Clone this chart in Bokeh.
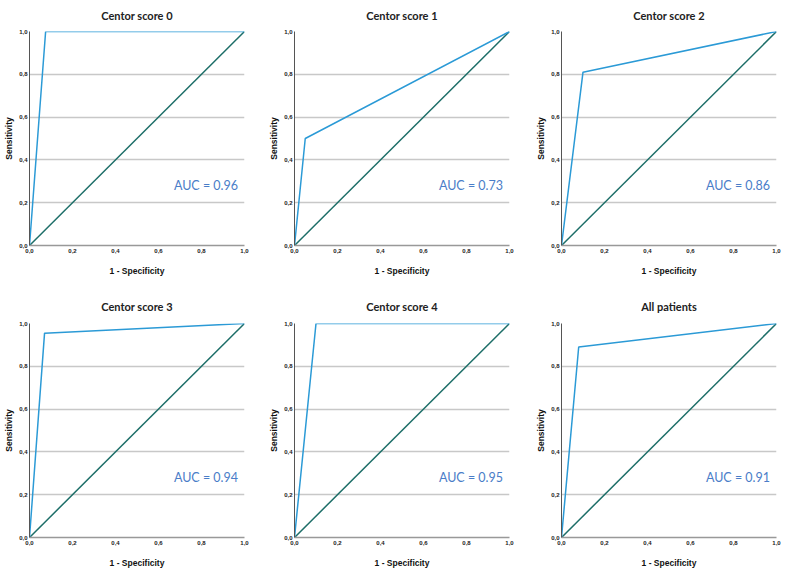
from bokeh.plotting import figure
from bokeh.layouts import column, row
from bokeh.models import Range1d, FixedTicker, Label
from bokeh.embed import file_html
from bokeh.resources import INLINE

# ---- data ----
titles = ["Centor score 0", "Centor score 1", "Centor score 2",
          "Centor score 3", "Centor score 4", "All patients"]
roc_fpr = [[0.0, 0.075, 1.0], [0.0, 0.05, 1.0], [0.0, 0.10, 1.0],
           [0.0, 0.07, 1.0], [0.0, 0.10, 1.0], [0.0, 0.08, 1.0]]
roc_tpr = [[0.0, 1.0, 1.0], [0.0, 0.50, 1.0], [0.0, 0.81, 1.0],
           [0.0, 0.955, 1.0], [0.0, 1.0, 1.0], [0.0, 0.89, 1.0]]
auc_values = ["0.96", "0.73", "0.86", "0.94", "0.95", "0.91"]
ref_x = [0.0, 1.0]
ref_y = [0.0, 1.0]
tick_values = [0.0, 0.2, 0.4, 0.6, 0.8, 1.0]
tick_labels = ["0,0", "0,2", "0,4", "0,6", "0,8", "1,0"]

# ---- layout ----
FW, FH = 215, 214
LEFT = [29, 29, 29]
RIGHT = [21, 23, 8]
TOP = [30, 45]
BOTTOM = 30
TITLE_ALIGN = ["top", "bottom"]
TITLE_STANDOFF = [16, 21]

ROC_COLOR = "#2B9AD6"
DIAG_COLOR = "#1D6E68"
AUC_COLOR = "#4A7DC8"

overrides = {v: l for v, l in zip(tick_values, tick_labels)}


def make_panel(i):
    c = i % 3
    r = i // 3
    p = figure(frame_width=FW, frame_height=FH,
               x_range=Range1d(0, 1), y_range=Range1d(0, 1),
               output_backend="svg", toolbar_location=None,
               min_border_left=LEFT[c], min_border_right=RIGHT[c],
               min_border_top=TOP[r], min_border_bottom=BOTTOM,
               title=titles[i])
    p.outline_line_color = None
    p.background_fill_color = "white"
    p.border_fill_color = "white"

    p.title.align = "center"
    p.title.vertical_align = TITLE_ALIGN[r]
    p.title.text_font = "Lato"
    p.title.text_font_style = "bold"
    p.title.text_font_size = "11px"
    p.title.text_color = "#222222"
    p.title.standoff = TITLE_STANDOFF[r]

    for ax in (p.xaxis[0], p.yaxis[0]):
        ax.ticker = FixedTicker(ticks=tick_values)
        ax.major_label_overrides = overrides
        ax.major_tick_out = 0
        ax.major_tick_in = 0
        ax.minor_tick_out = 0
        ax.minor_tick_in = 0
        ax.major_label_text_font = "Liberation Sans"
        ax.major_label_text_font_style = "bold"
        ax.major_label_text_font_size = "6px"
        ax.major_label_text_color = "#222222"
        ax.axis_label_text_font = "Liberation Sans"
        ax.axis_label_text_font_style = "bold"
        ax.axis_label_text_font_size = "8.5px"
        ax.axis_label_text_color = "#111111"

    p.xaxis.axis_label = "1 - Specificity"
    p.yaxis.axis_label = "Sensitivity"
    p.xaxis.major_label_standoff = 3
    p.xaxis.axis_label_standoff = 10
    p.yaxis.major_label_standoff = 2
    p.yaxis.axis_label_standoff = 2
    p.xaxis.axis_line_color = "#999999"
    p.xaxis.axis_line_width = 1.5
    p.yaxis.axis_line_color = "#555555"
    p.yaxis.axis_line_width = 1

    p.xgrid.grid_line_color = None
    p.ygrid.ticker = FixedTicker(ticks=tick_values[1:])
    p.ygrid.grid_line_color = "#c8c8c8"
    p.ygrid.grid_line_width = 1.3

    p.line(ref_x, ref_y, line_color=DIAG_COLOR, line_width=1.5)
    p.line(roc_fpr[i], roc_tpr[i], line_color=ROC_COLOR, line_width=1.5)

    p.add_layout(Label(x=0.97, y=0.28, text="AUC = " + auc_values[i],
                       text_align="right", text_baseline="middle",
                       text_color=AUC_COLOR, text_font="Lato",
                       text_font_size="12.5px"))
    return p


panels = [make_panel(i) for i in range(6)]
layout = column(row(*panels[:3]), row(*panels[3:]))

open("out.html", "w").write(file_html(layout, INLINE))
